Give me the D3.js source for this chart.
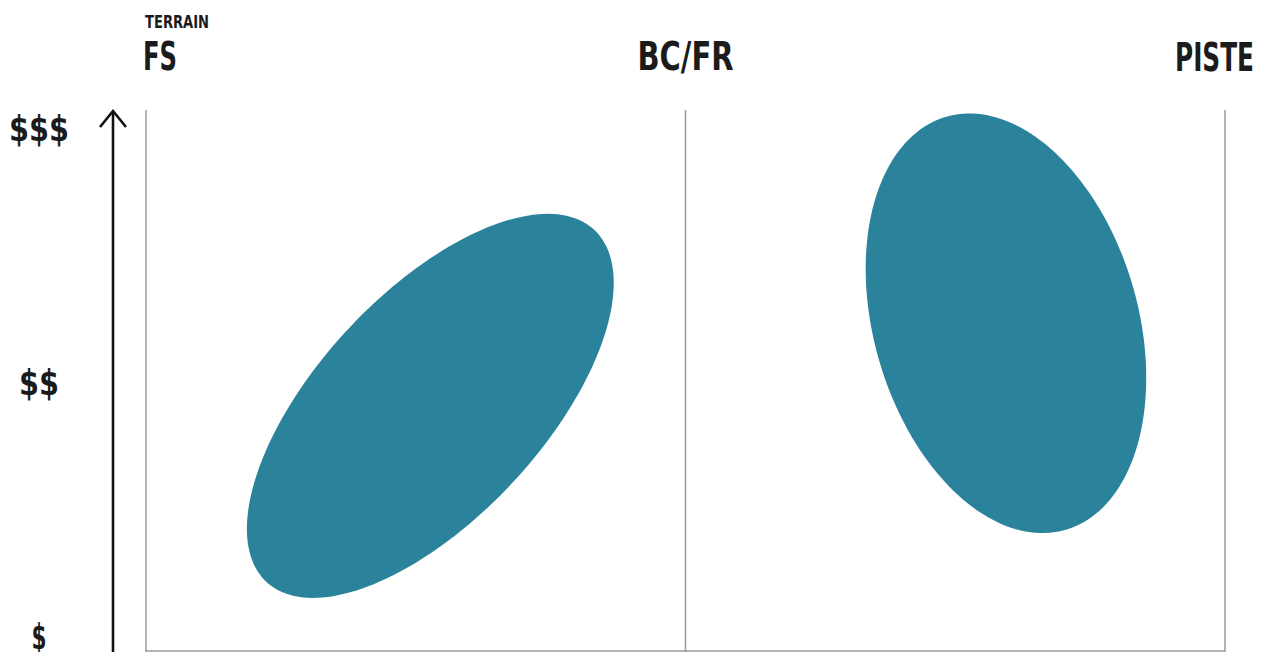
<!DOCTYPE html>
<html>
<head>
<meta charset="utf-8">
<script src="https://cdn.jsdelivr.net/npm/d3@7"></script>
<style>
  html, body { margin: 0; padding: 0; background: #fff; }
  svg { display: block; }
  text { font-family: "Liberation Sans Narrow", "DejaVu Sans Condensed", "Roboto", sans-serif; font-weight: bold; fill: #1b1b1b; }
</style>
</head>
<body>
<svg id="chart" width="1268" height="652"></svg>
<script>
// ---- data ----
const terrainCategories = ["FS", "BC/FR", "PISTE"];
const priceLevels = ["$", "$$", "$$$"];
const axisTitle = "TERRAIN";
// each group: centre (terrain position, price level), spread in terrain, spread in price, correlation
const groupNames = ["groupA", "groupB"];
const centreTerrain = [0.527, 1.594];
const centrePrice = [1.906, 2.231];
const spreadTerrain = [0.340, 0.260];
const spreadPrice = [0.756, 0.826];
const correlation = [0.64, -0.26];

// ---- layout ----
const W = 1268, H = 652;
const svg = d3.select("#chart");
const x = d3.scaleLinear().domain([0, terrainCategories.length - 1]).range([146, 1225]);
const y = d3.scaleLinear().domain([1, priceLevels.length]).range([636, 128]);
const gridTop = 110, gridBottom = 651;
const fill = "#2a839b";

// grid: vertical lines at each terrain category
svg.append("g").selectAll("line").data(terrainCategories).join("line")
  .attr("x1", (d, i) => x(i)).attr("x2", (d, i) => x(i))
  .attr("y1", gridTop).attr("y2", H)
  .attr("stroke", "#9a9a9a").attr("stroke-width", 1.5);
svg.append("line")
  .attr("x1", x(0)).attr("x2", x(terrainCategories.length - 1))
  .attr("y1", gridBottom).attr("y2", gridBottom)
  .attr("stroke", "#9a9a9a").attr("stroke-width", 1.5);

// ellipses
const line = d3.line().curve(d3.curveLinearClosed);
groupNames.forEach((g, k) => {
  const pts = d3.range(0, 360, 2).map(deg => {
    const t = deg * Math.PI / 180;
    const r = correlation[k];
    const dx = spreadTerrain[k] * Math.cos(t);
    const dy = spreadPrice[k] * (r * Math.cos(t) + Math.sqrt(1 - r * r) * Math.sin(t));
    return [x(centreTerrain[k] + dx), y(centrePrice[k] + dy)];
  });
  svg.append("path").attr("d", line(pts)).attr("fill", fill);
});

// price arrow
const ax = 113;
svg.append("line").attr("x1", ax).attr("x2", ax).attr("y1", H).attr("y2", gridTop + 1)
  .attr("stroke", "#111").attr("stroke-width", 2.6);
svg.append("path")
  .attr("d", `M${ax - 13},${gridTop + 17} L${ax},${gridTop + 1} L${ax + 13},${gridTop + 17}`)
  .attr("fill", "none").attr("stroke", "#111").attr("stroke-width", 2.6);

// price labels
const priceWidths = [15, 40, 60];
svg.append("g").selectAll("text").data(priceLevels).join("text")
  .attr("x", 39).attr("y", (d, i) => y(i + 1)).attr("dy", "0.36em")
  .attr("text-anchor", "middle")
  .attr("font-size", 35)
  .attr("textLength", (d, i) => priceWidths[i])
  .attr("lengthAdjust", "spacingAndGlyphs")
  .text(d => d);

// terrain labels
const termAnchor = ["start", "middle", "end"];
const termOffset = [-3, 0, 29];
const termBase = [70, 70, 71];
const termWidths = [34, 96, 79];
svg.append("g").selectAll("text").data(terrainCategories).join("text")
  .attr("x", (d, i) => x(i) + termOffset[i])
  .attr("y", (d, i) => termBase[i])
  .attr("text-anchor", (d, i) => termAnchor[i])
  .attr("font-size", 39)
  .attr("textLength", (d, i) => termWidths[i])
  .attr("lengthAdjust", "spacingAndGlyphs")
  .text(d => d);

svg.append("text")
  .attr("x", x(0) - 1).attr("y", 28)
  .attr("font-size", 17)
  .attr("textLength", 64)
  .attr("lengthAdjust", "spacingAndGlyphs")
  .text(axisTitle);
</script>
</body>
</html>
